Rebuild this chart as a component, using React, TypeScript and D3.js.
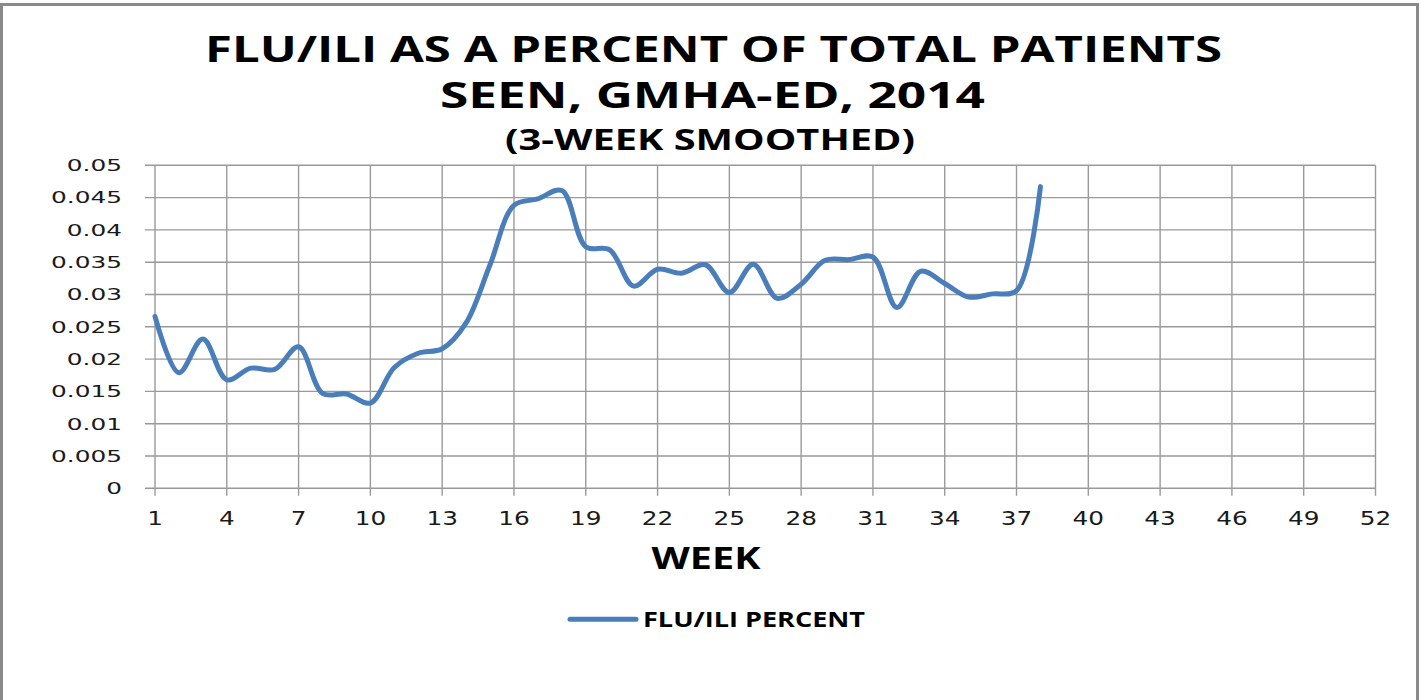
import React from "react";
import * as d3 from "d3";

const weeks = d3.range(1, 39);
const fluIliPercent = [
  0.0266, 0.0179, 0.0231, 0.0168, 0.0186, 0.0184, 0.0219, 0.0147, 0.0146, 0.0132,
  0.0187, 0.0209, 0.0216, 0.0256, 0.0346, 0.0438, 0.0448, 0.0461, 0.0374, 0.0369,
  0.0313, 0.0339, 0.0333, 0.0346, 0.0303, 0.0347, 0.0294, 0.0316, 0.0353, 0.0354,
  0.0358, 0.0280, 0.0336, 0.0317, 0.0296, 0.0301, 0.0306, 0.0467,
];
const xTicks = [1, 4, 7, 10, 13, 16, 19, 22, 25, 28, 31, 34, 37, 40, 43, 46, 49, 52];
const yTicks = [0, 0.005, 0.01, 0.015, 0.02, 0.025, 0.03, 0.035, 0.04, 0.045, 0.05];
const yTickLabels = ["0", "0.005", "0.01", "0.015", "0.02", "0.025", "0.03", "0.035", "0.04", "0.045", "0.05"];
const titleLines = ["FLU/ILI AS A PERCENT OF TOTAL PATIENTS", "SEEN, GMHA-ED, 2014", "(3-WEEK SMOOTHED)"];
const xAxisTitle = "WEEK";
const seriesName = "FLU/ILI PERCENT";

const GRID = "#9a9a9a";
const LINE = "#4a7ebb";

export default function App() {
  const x = d3.scaleLinear().domain([1, 52]).range([155, 1375.5]);
  const y = d3.scaleLinear().domain([0, 0.05]).range([488.3, 165.3]);
  const line = d3
    .line<number>()
    .x((_, i) => x(weeks[i]))
    .y((d) => y(d))
    .curve(d3.curveCatmullRom.alpha(0.5));
  const titleFont = "'Open Sans', 'DejaVu Sans', sans-serif";
  return (
    <svg
      width={1421}
      height={700}
      style={{ position: "absolute", left: 0, top: 0, background: "#fff" }}
    >
      <rect x={0} y={0} width={1421} height={700} fill="#fff" />
      <rect x={1.5} y={4.5} width={1416} height={720} fill="none" stroke="#8a8a8a" strokeWidth={3} />

      {/* titles */}
      <text x={713.5} y={61.5} fontFamily={titleFont} fontWeight={700} fontSize={36} textAnchor="middle"
        textLength={1017} lengthAdjust="spacingAndGlyphs">{titleLines[0]}</text>
      <text x={712.5} y={107.5} fontFamily={titleFont} fontWeight={700} fontSize={36} textAnchor="middle"
        textLength={545} lengthAdjust="spacingAndGlyphs">{titleLines[1]}</text>
      <text x={710} y={150} fontFamily={titleFont} fontWeight={700} fontSize={28} textAnchor="middle"
        textLength={410} lengthAdjust="spacingAndGlyphs">{titleLines[2]}</text>

      {/* horizontal gridlines + y ticks */}
      {yTicks.map((t) => (
        <line key={"h" + t} x1={145} x2={x(52)} y1={y(t)} y2={y(t)} stroke={GRID} strokeWidth={1.4} />
      ))}
      {/* vertical gridlines + x ticks */}
      {xTicks.map((t) => (
        <line key={"v" + t} x1={x(t)} x2={x(t)} y1={y(0.05)} y2={y(0) + 7.5} stroke={GRID} strokeWidth={1.4} />
      ))}

      {/* y labels */}
      {yTicks.map((t, i) => (
        <text key={"yl" + t} transform={`translate(122,${y(t) + 5.8}) scale(1.55,1)`} textAnchor="end"
          fontFamily="'DejaVu Sans', sans-serif" fontSize={16} fill="#1a1a1a">{yTickLabels[i]}</text>
      ))}
      {/* x labels */}
      {xTicks.map((t) => (
        <text key={"xl" + t} transform={`translate(${x(t)},525) scale(1.27,1)`} textAnchor="middle"
          fontFamily="'DejaVu Sans', sans-serif" fontSize={19.5} fill="#1a1a1a">{String(t)}</text>
      ))}

      {/* axis title */}
      <text x={706} y={569} fontFamily={titleFont} fontWeight={700} fontSize={29.5} textAnchor="middle"
        textLength={109} lengthAdjust="spacingAndGlyphs">{xAxisTitle}</text>

      {/* series */}
      <path d={line(fluIliPercent) || ""} fill="none" stroke={LINE} strokeWidth={5} strokeLinecap="round" strokeLinejoin="round" />

      {/* legend */}
      <line x1={570} x2={636} y1={619.3} y2={619.3} stroke={LINE} strokeWidth={5} strokeLinecap="round" />
      <text x={643} y={627} fontFamily={titleFont} fontWeight={700} fontSize={21}
        textLength={222} lengthAdjust="spacingAndGlyphs">{seriesName}</text>
    </svg>
  );
}
